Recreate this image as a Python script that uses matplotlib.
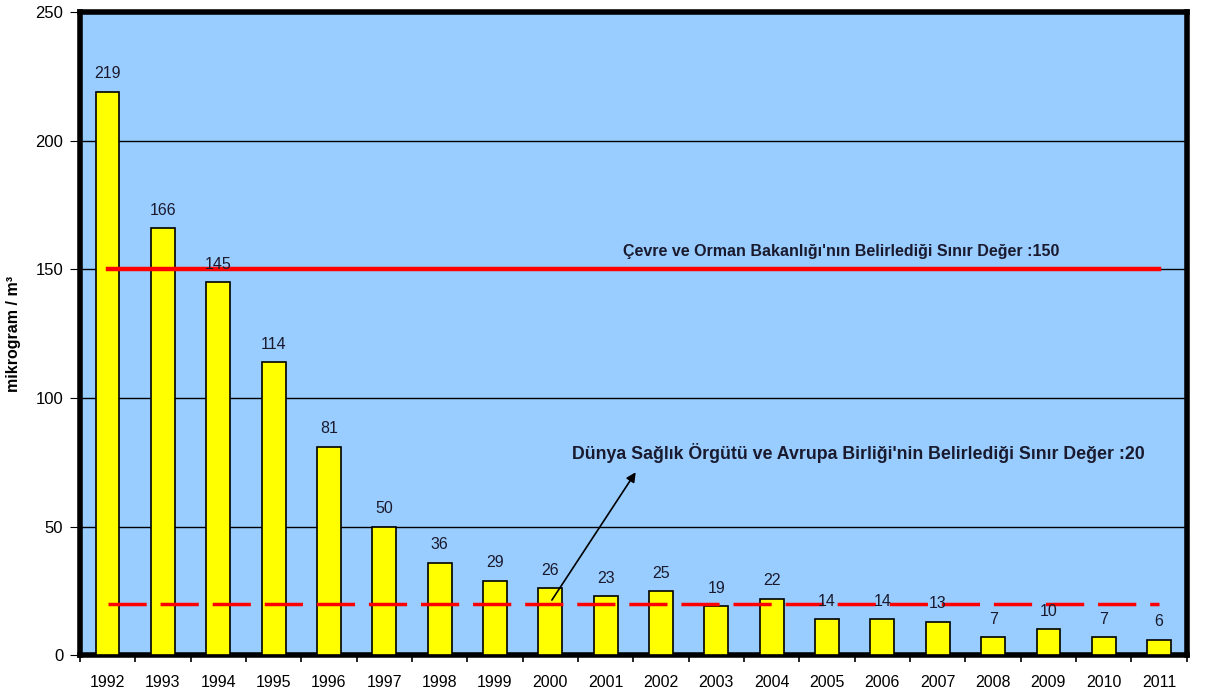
import matplotlib.pyplot as plt
import numpy as np

years = [str(y) for y in range(1992, 2012)]
values = [219, 166, 145, 114, 81, 50, 36, 29, 26, 23, 25, 19, 22, 14, 14, 13, 7, 10, 7, 6]
limit_national = 150
limit_who = 20
label_national = "Çevre ve Orman Bakanlığı'nın Belirlediği Sınır Değer :150"
label_who = "Dünya Sağlık Örgütü ve Avrupa Birliği'nin Belirlediği Sınır Değer :20"


def main():
    plt.rcParams["font.family"] = ["Liberation Sans", "DejaVu Sans"]
    fig = plt.figure(figsize=(12.11, 6.97), dpi=100)
    ax = fig.add_axes([0.066, 0.06, 0.914, 0.923])
    ax.set_facecolor("#99CCFF")

    x = np.arange(len(years))
    ax.bar(x, values, width=0.43, color="#FFFF00", edgecolor="black", linewidth=1.2, zorder=3)
    for xi, v in zip(x, values):
        ax.text(xi, v + 4, str(v), ha="center", va="bottom", fontsize=11.5, color="#1a1a2e", zorder=5)

    ax.plot([x[0], x[-1]], [limit_national] * 2, color="red", linewidth=3.2, zorder=4)
    ax.plot([x[0], x[-1]], [limit_who] * 2, color="red", linewidth=2.5,
            dashes=(11, 4), zorder=4)

    ax.text(13.25, 157, label_national, ha="center", va="center",
            fontsize=11.5, fontweight="bold", color="#1a1a2e", zorder=5)
    ax.text(13.56, 78.5, label_who, ha="center", va="center",
            fontsize=12.8, fontweight="bold", color="#1a1a2e", zorder=5)
    ax.annotate("", xy=(9.57, 72), xytext=(8.0, 20.5),
                arrowprops=dict(arrowstyle="-|>", color="black", lw=1.2, mutation_scale=14),
                zorder=6)

    ax.set_xlim(-0.5, len(years) - 0.5)
    ax.set_ylim(0, 250)
    ax.set_yticks(range(0, 251, 50))
    ax.yaxis.grid(True, color="black", linewidth=1)
    ax.set_axisbelow(True)
    ax.set_xticks(x)
    ax.set_xticklabels(years, fontsize=11.5)
    ax.tick_params(axis="y", labelsize=12, length=7, pad=5)
    ax.tick_params(axis="x", length=0, pad=14)
    ax.set_xticks(np.arange(-0.5, len(years)), minor=True)
    ax.tick_params(axis="x", which="minor", length=5, width=1.2)
    for side in ["left", "top", "right", "bottom"]:
        ax.spines[side].set_linewidth(4)
    ax.set_ylabel("mikrogram / m³", fontsize=11.5, fontweight="bold", labelpad=10)

    fig.savefig("out.png", dpi=100)
    plt.close(fig)


if __name__ == "__main__":
    main()
